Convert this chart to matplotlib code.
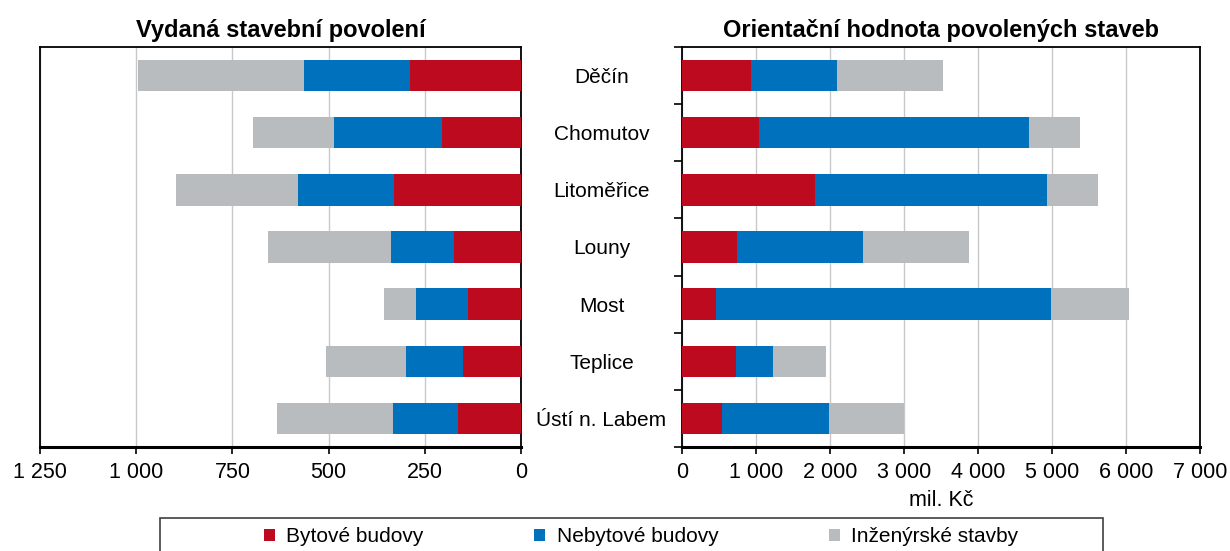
import numpy as np
import matplotlib.pyplot as plt
from matplotlib.patches import Patch, Rectangle
from matplotlib.ticker import FuncFormatter, MultipleLocator

plt.rcParams['font.family'] = ['Liberation Sans', 'DejaVu Sans']

okresy = ['Děčín', 'Chomutov', 'Litoměřice', 'Louny', 'Most', 'Teplice', 'Ústí n. Labem']
# počty vydaných stavebních povolení
povoleni_byt = [288, 205, 330, 174, 138, 151, 164]
povoleni_nebyt = [276, 281, 250, 164, 135, 148, 169]
povoleni_inz = [431, 210, 317, 319, 83, 208, 301]
# orientační hodnota (mil. Kč)
hodnota_byt = [932, 1040, 1797, 743, 459, 730, 541]
hodnota_nebyt = [1163, 3649, 3135, 1703, 4527, 500, 1445]
hodnota_inz = [1432, 689, 690, 1432, 1055, 716, 1014]

barvy = ['#BD0A1E', '#0071BC', '#B9BCBF']
nazvy = ['Bytové budovy', 'Nebytové budovy', 'Inženýrské stavby']

fmt = FuncFormatter(lambda v, p: f'{v:,.0f}'.replace(',', ' '))

W, H = 1230, 551
fig = plt.figure(figsize=(W / 100, H / 100), dpi=100)
ax1 = fig.add_axes([40 / W, 104 / H, 481 / W, 400 / H])
ax2 = fig.add_axes([682 / W, 104 / H, 518 / W, 400 / H])

y = np.arange(len(okresy))
h = 0.55

for ax, serie in ((ax1, (povoleni_byt, povoleni_nebyt, povoleni_inz)),
                  (ax2, (hodnota_byt, hodnota_nebyt, hodnota_inz))):
    left = np.zeros(len(okresy))
    for vals, c in zip(serie, barvy):
        ax.barh(y, vals, left=left, height=h, color=c, zorder=3)
        left += np.array(vals)
    ax.set_ylim(len(okresy) - 0.5, -0.5)
    ax.grid(axis='x', color='#C8C8C8', linewidth=1, zorder=0)
    ax.xaxis.set_major_formatter(fmt)
    ax.tick_params(axis='x', direction='out', length=5, width=1.2, labelsize=15.5, pad=6)
    for s in ax.spines.values():
        s.set_linewidth(1.3)
    ax.spines['bottom'].set_linewidth(2.2)

ax1.set_xlim(1250, 0)
ax1.xaxis.set_major_locator(MultipleLocator(250))
ax1.yaxis.tick_right()
ax1.set_yticks(y)
ax1.set_yticklabels(okresy, ha='center', fontsize=15)
ax1.tick_params(axis='y', length=0, pad=58)
ax1.set_title('Vydaná stavební povolení', fontsize=17, fontweight='bold', pad=7)

ax2.set_xlim(0, 7000)
ax2.xaxis.set_major_locator(MultipleLocator(1000))
ax2.set_yticks([])
ax2.set_yticks(np.arange(-0.5, len(okresy)), minor=True)
ax2.tick_params(axis='y', which='minor', direction='out', length=6, width=1.2)
ax2.set_xlabel('mil. Kč', fontsize=15.5, labelpad=5)
ax2.set_title('Orientační hodnota povolených staveb', fontsize=17, fontweight='bold', pad=7)

# rámeček legendy přesahuje spodní okraj obrázku
fig.patches.append(Rectangle((160 / W, -0.05), 943 / W, 0.05 + 33 / H, transform=fig.transFigure,
                             facecolor='none', edgecolor='#404040', linewidth=1.2))
handles = [Patch(facecolor=c, edgecolor='none') for c in barvy]
fig.legend(handles, nazvy, loc='center left', bbox_to_anchor=(264 / W, 1 - 537 / H),
           ncol=3, fontsize=15, frameon=False,
           handlelength=0.53, handleheight=0.53, handletextpad=0.55, columnspacing=5.3,
           borderpad=0, borderaxespad=0)

fig.savefig('out.png', dpi=100)
